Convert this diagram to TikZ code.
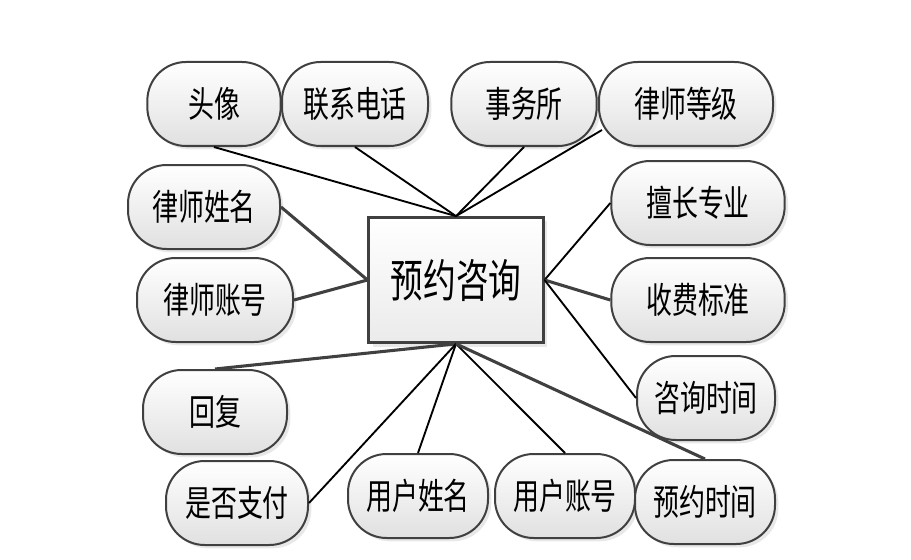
\documentclass[tikz,border=0pt]{standalone}
\usepackage{fontspec}
\newfontfamily\cjk[FakeStretch=0.72]{Noto Sans CJK SC}
\usetikzlibrary{shadows,calc}
\definecolor{edgegray}{HTML}{404040}
\tikzset{
  attr/.style={draw=edgegray, line width=1.5pt, rectangle, rounded corners=29pt,
    minimum height=63pt, inner sep=0pt, top color=white, bottom color=black!12,
    drop shadow={opacity=0.18, shadow xshift=2.5pt, shadow yshift=-2.5pt},
    font=\cjk\fontsize{27}{30}\selectfont},
  entity/.style={draw=edgegray, line width=1.8pt, rectangle, minimum width=131pt,
    minimum height=94pt, inner sep=0pt, top color=white, bottom color=black!8,
    drop shadow={opacity=0.18, shadow xshift=3pt, shadow yshift=-3pt},
    font=\cjk\fontsize{34}{38}\selectfont},
  thinlink/.style={draw=black, line width=1.4pt},
  thicklink/.style={draw=edgegray, line width=2.3pt},
}
\begin{document}
\begin{tikzpicture}[x=0.75pt,y=-0.75pt]
\useasboundingbox (0,0) rectangle (911,560);
\node[entity] (c) at (456,280) {预约咨询};
\node[attr, minimum width=100pt] (a1) at (214,104) {头像};
\node[attr, minimum width=109.5pt] (a2) at (355,104) {联系电话};
\node[attr, minimum width=109pt] (a3) at (524,104) {事务所};
\node[attr, minimum width=130.5pt] (a4) at (686,104) {律师等级};
\node[attr, minimum width=114pt] (a5) at (204,207) {律师姓名};
\node[attr, minimum width=117pt] (a6) at (215,300) {律师账号};
\node[attr, minimum width=130pt] (a7) at (698,203) {擅长专业};
\node[attr, minimum width=130pt] (a8) at (698,300) {收费标准};
\node[attr, minimum width=103.5pt] (a9) at (706,398) {咨询时间};
\node[attr, minimum width=108pt] (a10) at (215,412) {回复};
\node[attr, minimum width=106.5pt] (a11) at (237,503) {是否支付};
\node[attr, minimum width=105pt] (a12) at (418,496) {用户姓名};
\node[attr, minimum width=105pt] (a13) at (565,496) {用户账号};
\node[attr, minimum width=105pt] (a14) at (705,502) {预约时间};
\draw[thinlink] (a1.south) -- (c.north);
\draw[thinlink] (a2.south) -- (c.north);
\draw[thinlink] (a3.south) -- (c.north);
\draw[thinlink] ($(a4.west)+(4,26)$) -- (c.north);
\draw[thicklink] (a5.east) -- (c.west);
\draw[thicklink] (a6.east) -- (c.west);
\draw[thinlink] (a7.west) -- (c.east);
\draw[thicklink] (a8.west) -- (c.east);
\draw[thinlink] (a9.west) -- (c.east);
\draw[thicklink] (a10.north) -- (c.south);
\draw[thinlink] (a11.east) -- (c.south);
\draw[thinlink] (a12.north) -- (c.south);
\draw[thinlink] (a13.north) -- (c.south);
\draw[thicklink] (a14.north) -- (c.south);
\end{tikzpicture}
\end{document}
